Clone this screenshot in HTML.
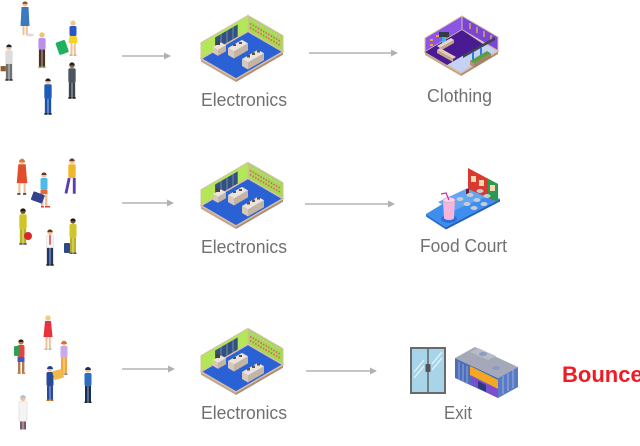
<!DOCTYPE html>
<html>
<head>
<meta charset="utf-8">
<style>
html,body{margin:0;padding:0;background:#fff;}
svg{display:block;}
text{font-family:"Liberation Sans",sans-serif;}
</style>
</head>
<body>
<svg width="640" height="446" viewBox="0 0 640 446" xmlns="http://www.w3.org/2000/svg">
<defs>
  <g id="elec">
    <polygon points="1,43.7 36,64 36,67 1,46.7" fill="#c4a488"/>
    <polygon points="36,64 83,36.7 83,39.7 36,67" fill="#ad8c74"/>
    <polygon points="1,43.7 48,16.4 48,0.4 1,27.7" fill="#b4e65a" stroke="#d8bfa5" stroke-width="1"/>
    <polygon points="48,16.4 83,36.7 83,20.7 48,0.4" fill="#a4da4c" stroke="#d8bfa5" stroke-width="1"/>
    <polygon points="15.1,35.5 37.7,22.4 37.7,9.4 15.1,22.5" fill="#34507e"/>
    <line x1="21" y1="32" x2="21" y2="19" stroke="#7a9ac8" stroke-width="0.8"/>
    <line x1="27" y1="28.6" x2="27" y2="15.6" stroke="#7a9ac8" stroke-width="0.8"/>
    <line x1="33" y1="25" x2="33" y2="12" stroke="#7a9ac8" stroke-width="0.8"/>
    <line x1="50" y1="12.6" x2="81" y2="30.6" stroke="#e05a78" stroke-width="1.6" stroke-dasharray="1.5 1.5"/>
    <line x1="50" y1="8.6" x2="81" y2="26.6" stroke="#e05a78" stroke-width="1.6" stroke-dasharray="1.5 1.5"/>
    <line x1="50" y1="4.6" x2="81" y2="22.6" stroke="#c8c8c8" stroke-width="1.4" stroke-dasharray="1.5 1.5"/>
    <polygon points="1,43.7 36,64 83,36.7 48,16.4" fill="#2a62d6" stroke="#d8bfa5" stroke-width="1.5"/>
    <!-- counter 1 -->
    <polygon points="13,32 18,34.9 18,40.9 13,38" fill="#d6c8ba"/>
    <polygon points="18,34.9 26,30.3 26,36.3 18,40.9" fill="#c4b4a4"/>
    <polygon points="13,32 21,27.4 26,30.3 18,34.9" fill="#ece4dc"/>
    <rect x="16" y="26" width="4" height="4" fill="#444"/>
    <!-- counter 2 -->
    <polygon points="28,33 34,36.5 34,43.5 28,40" fill="#d6c8ba"/>
    <polygon points="34,36.5 48,28.4 48,35.4 34,43.5" fill="#c4b4a4"/>
    <polygon points="28,33 42,24.9 48,28.4 34,36.5" fill="#ece4dc"/>
    <rect x="33" y="29" width="3" height="2" fill="#555"/>
    <rect x="39" y="27" width="3" height="2" fill="#555"/>
    <!-- counter 3 -->
    <polygon points="42,44 48,47.5 48,54.5 42,51" fill="#d6c8ba"/>
    <polygon points="48,47.5 64,38.2 64,45.2 48,54.5" fill="#c4b4a4"/>
    <polygon points="42,44 58,34.7 64,38.2 48,47.5" fill="#ece4dc"/>
    <rect x="47" y="40" width="3" height="2.5" fill="#555"/>
    <rect x="52" y="37.5" width="3" height="2.5" fill="#555"/>
    <rect x="57" y="35" width="3" height="2.5" fill="#555"/>
  </g>
  <polygon id="ah" points="0,0 -7,-3.5 -7,3.5" fill="#b0b0b0"/>
</defs>

<!-- ===== arrows ===== -->
<g stroke="#b4b4b4" stroke-width="1.4">
  <line x1="122" y1="56" x2="165" y2="56"/>
  <line x1="309" y1="53" x2="393" y2="53"/>
  <line x1="122" y1="203" x2="168" y2="203"/>
  <line x1="305" y1="204" x2="390" y2="204"/>
  <line x1="122" y1="369" x2="169" y2="369"/>
  <line x1="306" y1="371" x2="371" y2="371"/>
</g>
<use href="#ah" x="171" y="56"/>
<use href="#ah" x="398" y="53"/>
<use href="#ah" x="174" y="203"/>
<use href="#ah" x="395" y="204"/>
<use href="#ah" x="175" y="369"/>
<use href="#ah" x="377" y="371"/>

<!-- ===== electronics rooms ===== -->
<use href="#elec" x="200" y="15"/>
<use href="#elec" x="200" y="162"/>
<use href="#elec" x="200" y="328"/>

<!-- ===== clothing room ===== -->
<g transform="translate(425,17)">
  <polygon points="0,35 36,56 36,59 0,38" fill="#c4a488"/>
  <polygon points="36,56 73,34 73,37 36,59" fill="#ad8c74"/>
  <polygon points="0,35 37,13 37,-1 0,21" fill="#8c55e6" stroke="#d8bfa5" stroke-width="1"/>
  <polygon points="37,13 73,34 73,20 37,-1" fill="#7a46d6" stroke="#d8bfa5" stroke-width="1"/>
  <polygon points="0,35 36,56 73,34 37,13" fill="#c4d2f4" stroke="#d8bfa5" stroke-width="1.5"/>
  <polygon points="0,35 22,48 58,27 37,13" fill="#4a1a92"/>
  <g fill="#f0a040"><rect x="5" y="22" width="3" height="2"/><rect x="5" y="27" width="3" height="2"/><rect x="11" y="18" width="3" height="2"/></g>
  <g stroke="#f0c040" stroke-width="1.2"><line x1="45" y1="6" x2="45" y2="12"/><line x1="52" y1="10" x2="52" y2="16"/><line x1="59" y1="14" x2="59" y2="20"/><line x1="66" y1="18" x2="66" y2="24"/></g>
  <rect x="14" y="15" width="10" height="5" fill="#333a48"/>
  <rect x="17" y="20" width="4" height="6" fill="#38b8e8"/>
  <polygon points="12,29 26,21 29,23 15,31" fill="#e6d6c8"/>
  <polygon points="15,31 29,23 29,26 15,34" fill="#c4a48a"/>
  <polygon points="12,33 28,42 31,40 15,31" fill="#e2ccb6"/>
  <polygon points="12,33 28,42 28,45 12,36" fill="#c8a88c"/>
  <polygon points="38,38 70,20 70,23 38,41" fill="#3c4454"/>
  <rect x="47" y="35" width="2" height="10" fill="#3878d8"/>
  <rect x="55" y="31" width="2" height="10" fill="#3878d8"/>
  <polygon points="45,44 62,34 66,36.5 49,46.5" fill="#5aa040"/>
  <polygon points="45,44 49,46.5 49,50.5 45,48" fill="#b89276"/>
  <polygon points="49,46.5 66,36.5 66,40.5 49,50.5" fill="#a58066"/>
</g>

<!-- ===== food court ===== -->
<g>
  <polygon points="426,214 446,227 446,229.5 426,216.5" fill="#2a6ccc"/>
  <polygon points="446,227 500,199 500,201.5 446,229.5" fill="#2260bc"/>
  <polygon points="426,214 446,227 500,199 472,186" fill="#3e8ef0"/>
  <polygon points="453,211 492,194 472,186 438,202" fill="#62a6f4"/>
  <polygon points="468,168 498,184 498,202 468,189" fill="#d83a30"/>
  <polygon points="488,178.7 498,184 498,202 488,196.7" fill="#2a9a50"/>
  <rect x="471" y="176" width="5" height="6" fill="#f4d8b0"/>
  <rect x="479" y="180" width="5" height="6" fill="#f4d8b0"/>
  <rect x="490" y="185" width="5" height="6" fill="#f4d8b0"/>
  <rect x="466" y="189" width="3" height="5" fill="#6a2030"/>
  <g fill="#c8ccd6">
    <ellipse cx="460" cy="199" rx="3.5" ry="2"/>
    <ellipse cx="470" cy="195" rx="3.5" ry="2"/>
    <ellipse cx="480" cy="191" rx="3.5" ry="2"/>
    <ellipse cx="467" cy="204" rx="3.5" ry="2"/>
    <ellipse cx="477" cy="200" rx="3.5" ry="2"/>
    <ellipse cx="487" cy="196" rx="3.5" ry="2"/>
    <ellipse cx="474" cy="208" rx="3.5" ry="2"/>
    <ellipse cx="484" cy="204" rx="3.5" ry="2"/>
  </g>
  <ellipse cx="449" cy="219" rx="8" ry="4" fill="#2a70d8"/>
  <path d="M443,200 L455,200 L454,218 A5,2 0 0 1 444,218 Z" fill="#f4b6da"/>
  <ellipse cx="449" cy="200" rx="6" ry="2.5" fill="#f8d4ea" stroke="#d8a0c4" stroke-width="0.6"/>
  <polyline points="449,200 446,193 441,194" fill="none" stroke="#d030b0" stroke-width="1.3"/>
</g>

<!-- ===== exit door ===== -->
<g>
  <rect x="411" y="348" width="34" height="45" fill="#a8d4ea" stroke="#6a6a6a" stroke-width="2"/>
  <line x1="428" y1="348" x2="428" y2="393" stroke="#6a6a6a" stroke-width="1.6"/>
  <rect x="425.5" y="364" width="5" height="8" rx="1" fill="#555"/>
  <g stroke="#e8f6fc" stroke-width="1.2">
    <line x1="414" y1="372" x2="424" y2="360"/>
    <line x1="414" y1="378" x2="424" y2="366"/>
    <line x1="432" y1="364" x2="442" y2="352"/>
    <line x1="432" y1="370" x2="442" y2="358"/>
  </g>
</g>

<!-- ===== building ===== -->
<g>
  <polygon points="455,378 498,398 498,378 455,358" fill="#4e6eb8"/>
  <g stroke="#8eaae0" stroke-width="1"><line x1="459" y1="362" x2="459" y2="380"/><line x1="463" y1="364" x2="463" y2="382"/><line x1="467" y1="366" x2="467" y2="384"/></g>
  <polygon points="498,398 518,387 518,367 498,378" fill="#5a7ac4"/>
  <g stroke="#9ab4e4" stroke-width="1"><line x1="503" y1="376" x2="503" y2="394"/><line x1="508" y1="373" x2="508" y2="391"/><line x1="513" y1="370" x2="513" y2="388"/></g>
  <polygon points="470,366 498,380 498,389 470,375" fill="#f5a623"/>
  <polygon points="472,376 498,389 498,398 472,385" fill="#7b4fd0"/>
  <polygon points="478,381 486,385 486,392 478,388" fill="#2a3a7a"/>
  <polygon points="455,358 498,378 518,367 475,347" fill="#a4a8b8"/>
  <polygon points="470,352 488,360 496,356 478,348" fill="#b8bcc8"/>
  <ellipse cx="483" cy="354" rx="4" ry="2" fill="#8a9cc4"/>
  <ellipse cx="496" cy="368" rx="4" ry="2" fill="#8a9cc4"/>
</g>

<!-- ===== people row 1 ===== -->
<g>
  <ellipse cx="30" cy="35" rx="4" ry="1.5" fill="#d8dce4"/>
  <g transform="translate(25,1)">
    <circle cx="0" cy="3" r="2.6" fill="#f0c09a"/><path d="M-2.6,3 a2.6,2.6 0 0 1 5.2,0 z" fill="#8a5a30"/>
    <path d="M-3.5,6 L3.5,6 L4.5,25 L-4.5,25 Z" fill="#3c7ac0"/>
    <rect x="-2.5" y="25" width="2" height="9" fill="#f0c09a"/><rect x="0.8" y="25" width="2" height="9" fill="#f0c09a"/>
  </g>
  <g transform="translate(9,44) scale(1.05)">
    <circle cx="0" cy="3" r="2.6" fill="#f0c09a"/><path d="M-2.6,3 a2.6,2.6 0 0 1 5.2,0 z" fill="#222"/>
    <rect x="-3.5" y="6" width="7" height="13" rx="1.5" fill="#dcdcdc"/>
    <rect x="-3" y="19" width="2.7" height="15" fill="#707070"/><rect x="0.3" y="19" width="2.7" height="15" fill="#707070"/>
    <rect x="-3.5" y="33.5" width="3.2" height="1.5" fill="#333"/><rect x="0.3" y="33.5" width="3.2" height="1.5" fill="#333"/>
    <rect x="-8" y="21" width="5" height="5" fill="#8a5a2a"/>
  </g>
  <g transform="translate(42,32) scale(1.03)">
    <circle cx="0" cy="3" r="2.6" fill="#f0c09a"/><path d="M-2.6,3 a2.6,2.6 0 0 1 5.2,0 z" fill="#e8c860"/>
    <rect x="-3.5" y="6" width="7" height="11" rx="1.5" fill="#b890ec"/>
    <rect x="-3" y="17" width="2.7" height="17" fill="#4b3226"/><rect x="0.3" y="17" width="2.7" height="17" fill="#4b3226"/>
    <rect x="-3.5" y="33.5" width="3.2" height="1.5" fill="#8ab040"/><rect x="0.3" y="33.5" width="3.2" height="1.5" fill="#8ab040"/>
  </g>
  <g transform="translate(73,20)">
    <circle cx="0" cy="3" r="2.6" fill="#f0c09a"/><path d="M-2.6,3.5 a2.6,2.6 0 0 1 5.2,0 z" fill="#ecd070"/>
    <rect x="-3.5" y="6" width="7" height="10" rx="1.5" fill="#2c56c8"/>
    <path d="M-3.5,16 L3.5,16 L4.5,23 L-4.5,23 Z" fill="#f6d22a"/>
    <rect x="-2.5" y="23" width="2" height="12" fill="#f0c09a"/><rect x="0.8" y="23" width="2" height="12" fill="#f0c09a"/>
    <rect x="-3.5" y="34.5" width="3" height="1.5" fill="#e0b080"/><rect x="0.5" y="34.5" width="3" height="1.5" fill="#e0b080"/>
  </g>
  <rect x="57" y="41" width="10" height="13" rx="1.5" fill="#1fb060" transform="rotate(-20 62 47)"/>
  <g transform="translate(72,62) scale(1.05)">
    <circle cx="0" cy="3" r="2.6" fill="#8a5a3a"/><path d="M-2.6,3 a2.6,2.6 0 0 1 5.2,0 z" fill="#222"/>
    <rect x="-3.5" y="6" width="7" height="14" rx="1.5" fill="#4d5660"/>
    <rect x="-3" y="20" width="2.7" height="14" fill="#3c424c"/><rect x="0.3" y="20" width="2.7" height="14" fill="#3c424c"/>
    <rect x="-3.5" y="33.5" width="3.2" height="1.5" fill="#222"/><rect x="0.3" y="33.5" width="3.2" height="1.5" fill="#222"/>
  </g>
  <g transform="translate(48,78) scale(1.05)">
    <circle cx="0" cy="3" r="2.6" fill="#f0c09a"/><path d="M-2.6,3 a2.6,2.6 0 0 1 5.2,0 z" fill="#222"/>
    <rect x="-3.5" y="6" width="7" height="14" rx="1.5" fill="#1f5cb8"/>
    <rect x="-3" y="20" width="2.7" height="14" fill="#1a50a8"/><rect x="0.3" y="20" width="2.7" height="14" fill="#1a50a8"/>
    <rect x="-3.5" y="33.5" width="3.2" height="1.5" fill="#222"/><rect x="0.3" y="33.5" width="3.2" height="1.5" fill="#222"/>
  </g>
</g>

<!-- ===== people row 2 ===== -->
<g>
  <g transform="translate(22,158) scale(1.05)">
    <circle cx="0" cy="3" r="2.6" fill="#f0c09a"/><path d="M-3,4 a3,3 0 0 1 6,0 z" fill="#d8782c"/>
    <path d="M-3.5,6 L3.5,6 L5,24 L-5,24 Z" fill="#e04e2c"/>
    <rect x="-3.5" y="24" width="2" height="10" fill="#f0c09a"/><rect x="1.5" y="24" width="2" height="10" fill="#f0c09a"/>
    <rect x="-4.5" y="33.5" width="3" height="1.5" fill="#333"/><rect x="1" y="33.5" width="3" height="1.5" fill="#333"/>
  </g>
  <g transform="translate(44,172)">
    <circle cx="0" cy="3" r="2.6" fill="#f0c09a"/><path d="M-2.6,3 a2.6,2.6 0 0 1 5.2,0 z" fill="#6a3a20"/>
    <rect x="-3.5" y="6" width="7" height="12" rx="1.5" fill="#4cbbe8"/>
    <rect x="-3.5" y="18" width="7" height="4" fill="#e8683a"/>
    <rect x="-3" y="22" width="2.4" height="13" fill="#f0c09a"/><rect x="1" y="22" width="2.4" height="13" fill="#f0c09a"/>
    <rect x="-3" y="34" width="3" height="1.5" fill="#e04030"/><rect x="1" y="34" width="5" height="1.5" fill="#e04030"/>
  </g>
  <rect x="32" y="193" width="12" height="9" rx="1" fill="#34418c" transform="rotate(20 38 197)"/>
  <g transform="translate(72,158) scale(1.05)">
    <circle cx="0" cy="3" r="2.6" fill="#f0c09a"/><path d="M-2.6,3 a2.6,2.6 0 0 1 5.2,0 z" fill="#6a3a20"/>
    <rect x="-3.5" y="6" width="7" height="13" rx="1.5" fill="#f2b62a"/>
    <rect x="-4" y="19" width="2.7" height="15" fill="#5b3cb2" transform="rotate(12 -3 19)"/><rect x="0.8" y="19" width="2.7" height="15" fill="#5b3cb2"/>
  </g>
  <g transform="translate(23,208) scale(1.05)">
    <circle cx="0" cy="3" r="2.6" fill="#7a4a2a"/><path d="M-2.6,3 a2.6,2.6 0 0 1 5.2,0 z" fill="#1a1a1a"/>
    <rect x="-3.5" y="6" width="7" height="14" rx="1.5" fill="#cfc52a"/>
    <rect x="-3" y="20" width="2.7" height="14" fill="#b9b21e"/><rect x="0.3" y="20" width="2.7" height="14" fill="#b9b21e"/>
    <rect x="-3.5" y="33.5" width="3.2" height="1.5" fill="#556"/><rect x="0.3" y="33.5" width="3.2" height="1.5" fill="#556"/>
  </g>
  <circle cx="28" cy="236" r="4" fill="#d82828"/>
  <g transform="translate(50,229) scale(1.05)">
    <circle cx="0" cy="3" r="2.6" fill="#f0c09a"/><path d="M-2.6,3 a2.6,2.6 0 0 1 5.2,0 z" fill="#6a3a20"/>
    <rect x="-3.5" y="6" width="7" height="12" rx="1.5" fill="#f5f5f5" stroke="#ddd" stroke-width="0.5"/>
    <rect x="-0.6" y="6" width="1.2" height="9" fill="#d82020"/>
    <rect x="-3" y="18" width="2.7" height="16" fill="#1e3568"/><rect x="0.3" y="18" width="2.7" height="16" fill="#1e3568"/>
    <rect x="-3.5" y="33.5" width="3.2" height="1.5" fill="#222"/><rect x="0.3" y="33.5" width="3.2" height="1.5" fill="#222"/>
  </g>
  <g transform="translate(73,218)">
    <circle cx="0" cy="3" r="2.6" fill="#7a4a2a"/><path d="M-2.6,3 a2.6,2.6 0 0 1 5.2,0 z" fill="#1a1a1a"/>
    <rect x="-3.5" y="6" width="7" height="14" rx="1.5" fill="#cfc52a"/>
    <rect x="-3" y="20" width="2.7" height="15" fill="#b9b21e"/><rect x="0.3" y="20" width="2.7" height="15" fill="#b9b21e"/>
    <rect x="-3.5" y="34.5" width="3.2" height="1.5" fill="#556"/><rect x="0.3" y="34.5" width="3.2" height="1.5" fill="#556"/>
  </g>
  <rect x="64" y="243" width="6" height="10" rx="1" fill="#2c4a8a"/>
</g>

<!-- ===== people row 3 ===== -->
<g>
  <g transform="translate(48,315)">
    <circle cx="0" cy="3" r="2.6" fill="#f0c09a"/><path d="M-2.8,4 a2.8,2.8 0 0 1 5.6,0 z" fill="#f0d080"/>
    <path d="M-3,6 L3,6 L4.5,22 L-4.5,22 Z" fill="#e8323e"/>
    <rect x="-2.5" y="22" width="2" height="12" fill="#f0c09a"/><rect x="0.8" y="22" width="2" height="12" fill="#f0c09a"/>
    <rect x="-3.5" y="33.5" width="3" height="1.5" fill="#bbb"/><rect x="0.5" y="33.5" width="3" height="1.5" fill="#bbb"/>
  </g>
  <g transform="translate(21,339)">
    <circle cx="0" cy="3" r="2.6" fill="#b07850"/><path d="M-2.6,3 a2.6,2.6 0 0 1 5.2,0 z" fill="#222"/>
    <rect x="-3.5" y="6" width="7" height="12" rx="1.5" fill="#e04444"/>
    <rect x="-7" y="7" width="5" height="10" rx="1.5" fill="#2ea050"/>
    <rect x="-3.5" y="18" width="7" height="5" fill="#3c5cc0"/>
    <rect x="-3" y="23" width="2.4" height="11" fill="#b07850"/><rect x="1" y="23" width="2.4" height="11" fill="#b07850"/>
    <rect x="-3.5" y="33.5" width="3.2" height="1.5" fill="#e08030"/><rect x="1" y="33.5" width="3.2" height="1.5" fill="#e08030"/>
  </g>
  <g transform="translate(64,340)">
    <circle cx="0" cy="3" r="2.6" fill="#f0c09a"/><path d="M-3,4 a3,3 0 0 1 6,0 z" fill="#e86a2a"/>
    <rect x="-3.5" y="6" width="7" height="12" rx="1.5" fill="#c9a9ea"/>
    <rect x="-3" y="18" width="2.7" height="16" fill="#f2a53a"/><rect x="0.3" y="18" width="2.7" height="16" fill="#f2a53a"/>
    <rect x="-3.5" y="33.5" width="3.2" height="1.5" fill="#888"/><rect x="0.3" y="33.5" width="3.2" height="1.5" fill="#888"/>
  </g>
  <g transform="translate(50,366)">
    <circle cx="0" cy="3" r="2.6" fill="#f0c09a"/><path d="M-3,3 a3,3 0 0 1 6,0 z" fill="#1f3f8a"/>
    <rect x="-3.5" y="6" width="7" height="14" rx="1.5" fill="#28489a"/>
    <rect x="-3" y="20" width="2.7" height="14" fill="#28489a"/><rect x="0.3" y="20" width="2.7" height="14" fill="#28489a"/>
    <rect x="-3.5" y="33.5" width="3.2" height="1.5" fill="#c07020"/><rect x="0.3" y="33.5" width="3.2" height="1.5" fill="#c07020"/>
  </g>
  <rect x="53" y="370" width="10" height="9" rx="1" fill="#f2b84a" transform="rotate(-15 58 374)"/>
  <g transform="translate(88,367)">
    <circle cx="0" cy="3" r="2.6" fill="#f0c09a"/><path d="M-3,3 a3,3 0 0 1 6,0 z" fill="#14305a"/>
    <rect x="-3.5" y="6" width="7" height="13" rx="1.5" fill="#2e6cc0"/>
    <rect x="-3" y="19" width="2.7" height="16" fill="#142e5c"/><rect x="0.3" y="19" width="2.7" height="16" fill="#142e5c"/>
    <rect x="-3.5" y="34.5" width="3.2" height="1.5" fill="#222"/><rect x="0.3" y="34.5" width="3.2" height="1.5" fill="#222"/>
  </g>
  <g transform="translate(23,395)">
    <circle cx="0" cy="3.5" r="2.6" fill="#f0c09a"/><path d="M-3,3 a3,3 0 0 1 6,0 z" fill="#a8c4e4"/>
    <rect x="-4" y="6.5" width="8" height="20" rx="1.5" fill="#f4f4f4" stroke="#d8d8d8" stroke-width="0.6"/>
    <rect x="-3" y="26.5" width="2.7" height="8" fill="#7a5a6a"/><rect x="0.3" y="26.5" width="2.7" height="8" fill="#7a5a6a"/>
  </g>
</g>

<!-- ===== labels ===== -->
<g fill="#707070" font-size="18">
  <text x="244" y="106" text-anchor="middle" textLength="86" lengthAdjust="spacingAndGlyphs">Electronics</text>
  <text x="459.5" y="102" text-anchor="middle" textLength="65" lengthAdjust="spacingAndGlyphs">Clothing</text>
  <text x="244" y="253" text-anchor="middle" textLength="86" lengthAdjust="spacingAndGlyphs">Electronics</text>
  <text x="463.5" y="252" text-anchor="middle" textLength="87" lengthAdjust="spacingAndGlyphs">Food Court</text>
  <text x="244" y="419" text-anchor="middle" textLength="86" lengthAdjust="spacingAndGlyphs">Electronics</text>
  <text x="458" y="419" text-anchor="middle" textLength="28" lengthAdjust="spacingAndGlyphs">Exit</text>
</g>
<text x="562" y="382" fill="#ee1c24" font-size="22" font-weight="bold">Bounce</text>
</svg>
</body>
</html>
